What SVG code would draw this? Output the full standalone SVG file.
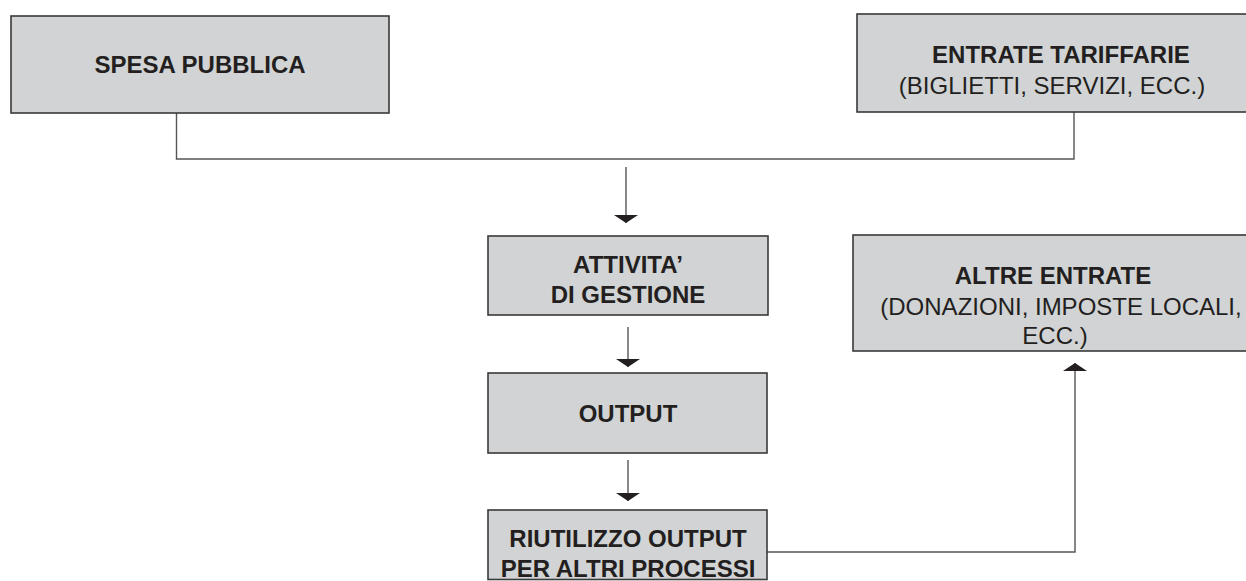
<svg xmlns="http://www.w3.org/2000/svg" width="1246" height="581" viewBox="0 0 1246 581">
  <style>
    .box { fill: #d1d3d4; stroke: #3a3a3a; stroke-width: 1.6; }
    .wire { fill: none; stroke: #555; stroke-width: 1.4; }
    .t { font-family: "Liberation Sans", Arial, Helvetica, sans-serif; font-size: 24px; fill: #231f20; text-anchor: middle; }
    .b { font-weight: bold; }
  </style>
  <defs>
    <marker id="head" viewBox="0 -12 8 24" markerUnits="userSpaceOnUse" markerWidth="8" markerHeight="24" refX="8" refY="0" orient="auto">
      <path d="M0,-12 L8,0 L0,12 Z" fill="#231f20"/>
    </marker>
  </defs>

  <rect width="1246" height="581" fill="#ffffff"/>

  <!-- connectors -->
  <g id="connectors">
    <path class="wire" d="M176.5,113 V159 H1074 V112"/>
    <path class="wire" d="M626,167 V223" marker-end="url(#head)"/>
    <path class="wire" d="M628,327 V367" marker-end="url(#head)"/>
    <path class="wire" d="M628,460 V501" marker-end="url(#head)"/>
    <path class="wire" d="M767,552 H1075 V363" marker-end="url(#head)"/>
  </g>

  <g id="spesa-pubblica">
    <rect class="box" x="11" y="16" width="378" height="97"/>
    <text class="t b" x="200" y="73">SPESA PUBBLICA</text>
  </g>

  <g id="entrate-tariffarie">
    <rect class="box" x="857" y="14" width="420" height="98"/>
    <text class="t b" x="1061" y="63">ENTRATE TARIFFARIE</text>
    <text class="t" x="1052" y="94">(BIGLIETTI, SERVIZI, ECC.)</text>
  </g>

  <g id="attivita-gestione">
    <rect class="box" x="488" y="236" width="280" height="79"/>
    <text class="t b" x="628" y="273">ATTIVITA’</text>
    <text class="t b" x="628" y="303">DI GESTIONE</text>
  </g>

  <g id="altre-entrate">
    <rect class="box" x="853" y="235" width="420" height="116"/>
    <text class="t b" x="1053" y="284">ALTRE ENTRATE</text>
    <text class="t" x="1061" y="315">(DONAZIONI, IMPOSTE LOCALI,</text>
    <text class="t" x="1055" y="344">ECC.)</text>
  </g>

  <g id="output">
    <rect class="box" x="488" y="373" width="279" height="80"/>
    <text class="t b" x="628" y="422">OUTPUT</text>
  </g>

  <g id="riutilizzo-output">
    <rect class="box" x="488" y="510" width="279" height="69.5"/>
    <text class="t b" x="628" y="547">RIUTILIZZO OUTPUT</text>
    <text class="t b" x="628" y="577">PER ALTRI PROCESSI</text>
  </g>
</svg>
